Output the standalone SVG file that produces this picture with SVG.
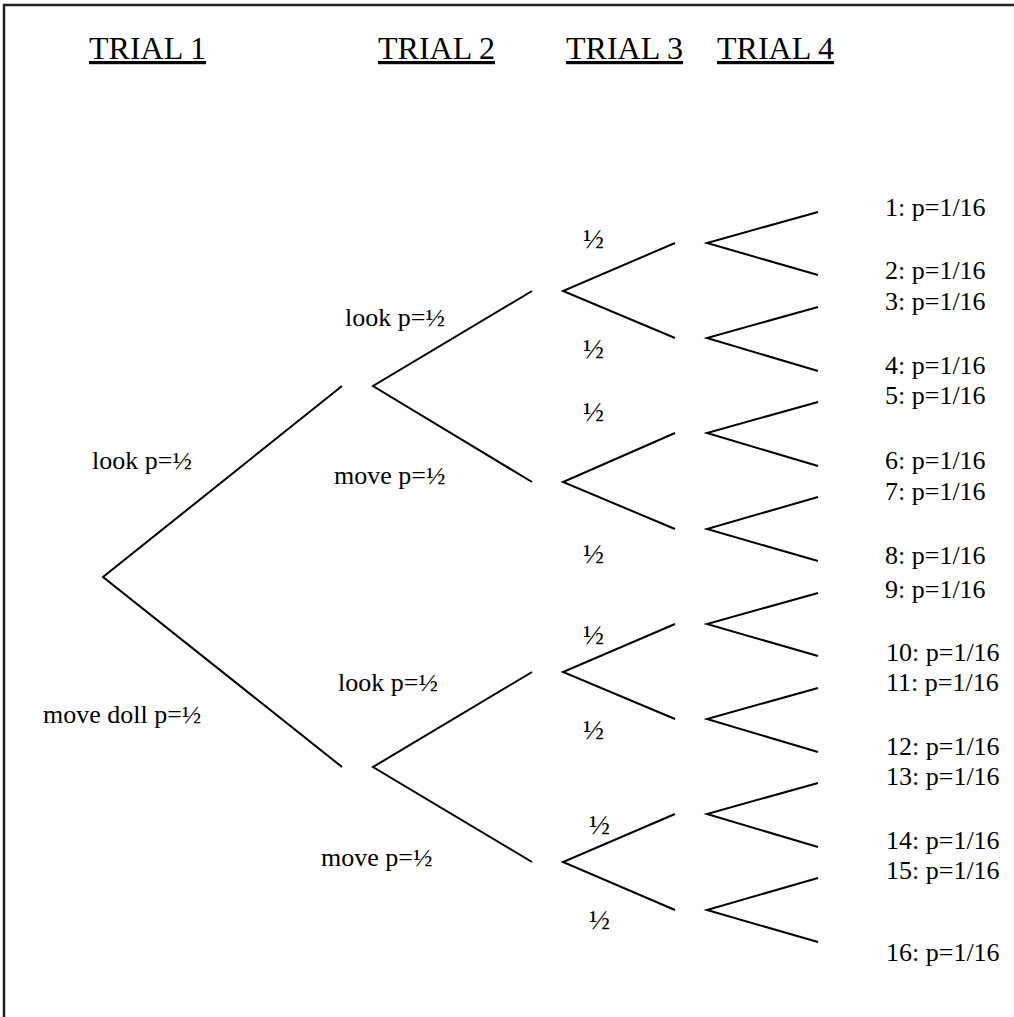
<svg xmlns="http://www.w3.org/2000/svg" width="1014" height="1017" viewBox="0 0 1014 1017">
<style>
text{font-family:"Liberation Serif","Times New Roman",serif;font-size:26px;fill:#000}
.h{font-size:32px;text-decoration:underline}
.f{font-size:28px}
.e{stroke:#000;stroke-width:2;fill:none}
</style>
<rect width="1014" height="1017" fill="#fff"/>
<path d="M4,1017 V5 H1014" fill="none" stroke="#222" stroke-width="2.5"/>
<g id="headers">
<text class="h" x="89" y="59">TRIAL 1</text>
<text class="h" x="378" y="59">TRIAL 2</text>
<text class="h" x="566" y="59">TRIAL 3</text>
<text class="h" x="717" y="59">TRIAL 4</text>
</g>
<g id="connectors" class="e">
<path class="e" d="M342,386 L103,577 L342,767"/>
<path class="e" d="M532,291 L373,386 L532,482"/>
<path class="e" d="M532,672 L373,767 L532,862"/>
<path class="e" d="M675,243 L563,291 L675,338"/>
<path class="e" d="M675,433 L563,482 L675,529"/>
<path class="e" d="M675,624 L563,672 L675,719"/>
<path class="e" d="M675,814 L563,862 L675,910"/>
<path class="e" d="M818,212 L707,243 L818,275"/>
<path class="e" d="M818,307 L707,338 L818,371"/>
<path class="e" d="M818,402 L707,433 L818,466"/>
<path class="e" d="M818,497 L707,529 L818,561"/>
<path class="e" d="M818,593 L707,624 L818,656"/>
<path class="e" d="M818,688 L707,719 L818,752"/>
<path class="e" d="M818,783 L707,814 L818,847"/>
<path class="e" d="M818,878 L707,910 L818,942"/>
</g>
<g id="trial1-labels">
<text x="92" y="469">look p=½</text>
<text x="43" y="723">move doll p=½</text>
</g>
<g id="trial2-labels">
<text x="345" y="326">look p=½</text>
<text x="334" y="484">move p=½</text>
<text x="338" y="691">look p=½</text>
<text x="321" y="866">move p=½</text>
</g>
<g id="trial3-labels">
<text class="f" x="583" y="248">½</text>
<text class="f" x="583" y="358">½</text>
<text class="f" x="583" y="421">½</text>
<text class="f" x="583" y="563">½</text>
<text class="f" x="583" y="644">½</text>
<text class="f" x="583" y="739">½</text>
<text class="f" x="589" y="834">½</text>
<text class="f" x="589" y="929">½</text>
</g>
<g id="outcomes">
<text x="885" y="216">1: p=1/16</text>
<text x="885" y="279">2: p=1/16</text>
<text x="885" y="310">3: p=1/16</text>
<text x="885" y="374">4: p=1/16</text>
<text x="885" y="404">5: p=1/16</text>
<text x="885" y="469">6: p=1/16</text>
<text x="885" y="500">7: p=1/16</text>
<text x="885" y="564">8: p=1/16</text>
<text x="885" y="598">9: p=1/16</text>
<text x="886" y="661">10: p=1/16</text>
<text x="886" y="691">11: p=1/16</text>
<text x="886" y="755">12: p=1/16</text>
<text x="886" y="785">13: p=1/16</text>
<text x="886" y="849">14: p=1/16</text>
<text x="886" y="879">15: p=1/16</text>
<text x="886" y="961">16: p=1/16</text>
</g>
</svg>
